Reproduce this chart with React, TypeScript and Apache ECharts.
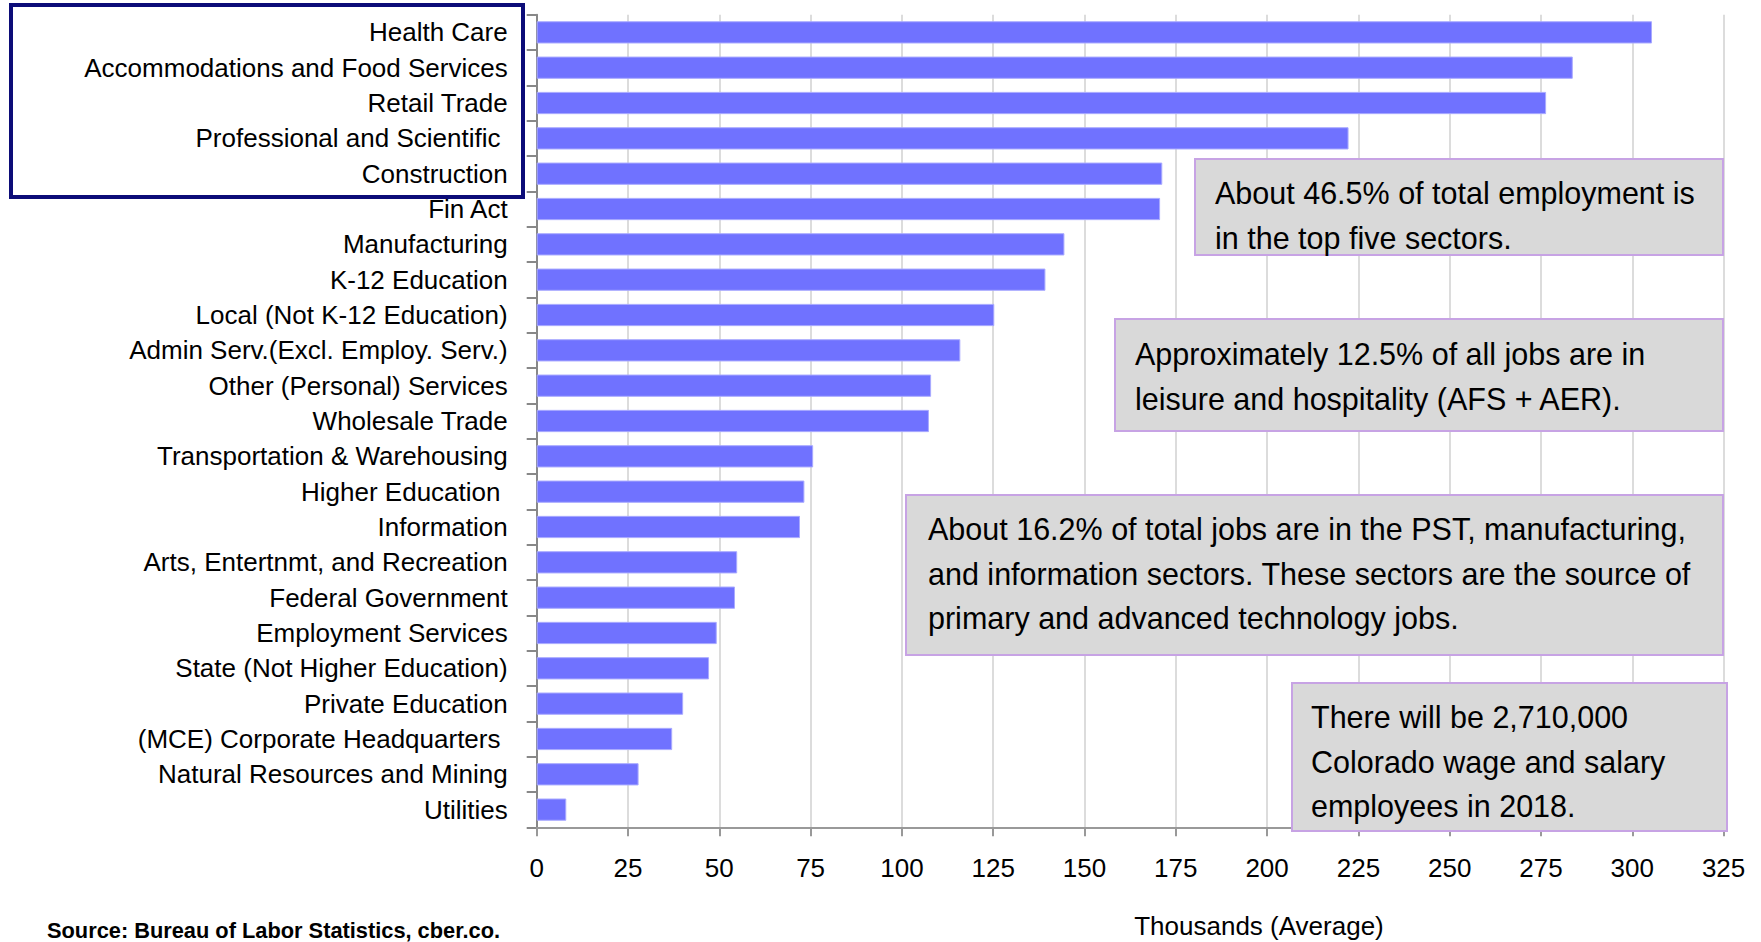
import React, { useEffect, useRef } from "react";
import * as echarts from "echarts";

// ---------- data ----------
const categories: string[] = [
  "Health Care",
  "Accommodations and Food Services",
  "Retail Trade",
  "Professional and Scientific ",
  "Construction",
  "Fin Act",
  "Manufacturing",
  "K-12 Education",
  "Local (Not K-12 Education)",
  "Admin Serv.(Excl. Employ. Serv.)",
  "Other (Personal) Services",
  "Wholesale Trade",
  "Transportation & Warehousing",
  "Higher Education ",
  "Information",
  "Arts, Entertnmt, and Recreation",
  "Federal Government",
  "Employment Services",
  "State (Not Higher Education)",
  "Private Education",
  "(MCE) Corporate Headquarters ",
  "Natural Resources and Mining",
  "Utilities",
];

const employment: number[] = [
  305.4, 283.7, 276.4, 222.3, 171.3, 170.7, 144.5, 139.3, 125.3, 116.0, 108.0,
  107.4, 75.7, 73.3, 72.1, 54.9, 54.3, 49.3, 47.2, 40.1, 37.1, 27.9, 8.1,
];

const xMin = 0;
const xMax = 325;
const xStep = 25;

const axisTitle = "Thousands (Average)";
const sourceNote = "Source: Bureau of Labor Statistics, cber.co.";

const notes: string[] = [
  "About 46.5% of total employment is\nin the top five sectors.",
  "Approximately 12.5% of all jobs are in\nleisure and hospitality (AFS + AER).",
  "About 16.2% of total jobs are in the PST, manufacturing,\nand information sectors. These sectors are the source of\nprimary and advanced technology jobs.",
  "There will be 2,710,000\nColorado wage and salary\nemployees in 2018.",
];

// ---------- layout (not data) ----------
const FONT = '"Liberation Sans", Arial, Helvetica, sans-serif';
const noteBoxes = [
  { x: 1195, y: 159, w: 528, h: 96, tx: 1215, ty: 171 },
  { x: 1115, y: 319, w: 608, h: 112, tx: 1135, ty: 332 },
  { x: 906, y: 495, w: 817, h: 160, tx: 928, ty: 507 },
  { x: 1292, y: 683, w: 435, h: 148, tx: 1311, ty: 695 },
];

export default function App() {
  const ref = useRef<HTMLDivElement>(null);

  useEffect(() => {
    if (!ref.current) return;
    const chart = echarts.init(ref.current, undefined, { renderer: "svg" });

    const noteGraphics: any[] = [];
    noteBoxes.forEach((b, i) => {
      noteGraphics.push({
        type: "rect",
        z: 100,
        shape: { x: b.x, y: b.y, width: b.w, height: b.h },
        style: { fill: "#d9d9d9", stroke: "#c7a3e4", lineWidth: 2 },
      });
      noteGraphics.push({
        type: "text",
        z: 101,
        x: b.tx,
        y: b.ty,
        style: {
          text: notes[i],
          fontFamily: FONT,
          fontSize: 30.5,
          lineHeight: 44.5,
          fill: "#000",
          align: "left",
          verticalAlign: "top",
        },
      });
    });

    const option: any = {
      animation: false,
      backgroundColor: "#ffffff",
      grid: {
        left: 536.7,
        right: 1761 - 1723.6,
        top: 14.7,
        bottom: 942 - 827.3,
        containLabel: false,
      },
      xAxis: {
        type: "value",
        min: xMin,
        max: xMax,
        interval: xStep,
        axisLine: { show: true, lineStyle: { color: "#999999", width: 2 } },
        axisTick: { show: true, length: 9, lineStyle: { color: "#999999", width: 2 } },
        axisLabel: {
          margin: 28,
          color: "#000",
          fontFamily: FONT,
          fontSize: 26,
        },
        splitLine: { show: true, lineStyle: { color: "#dcdcdc", width: 2 } },
      },
      yAxis: {
        type: "category",
        inverse: true,
        data: categories,
        axisLine: { show: true, lineStyle: { color: "#888888", width: 2 } },
        axisTick: { show: true, length: 10, alignWithLabel: false, lineStyle: { color: "#888888", width: 2 } },
        axisLabel: {
          margin: 29,
          color: "#000",
          fontFamily: FONT,
          fontSize: 26,
          interval: 0,
        },
        splitLine: { show: false },
      },
      series: [
        {
          type: "bar",
          data: employment,
          barCategoryGap: "37%",
          itemStyle: { color: "#7072ff", borderColor: "#a9aaff", borderWidth: 1 },
          silent: true,
        },
      ],
      graphic: [
        {
          type: "rect",
          z: 100,
          shape: { x: 11, y: 5, width: 512, height: 192 },
          style: { fill: "none", stroke: "#0c0c78", lineWidth: 4 },
        },
        ...noteGraphics,
        {
          type: "text",
          z: 100,
          x: 1259,
          y: 926,
          style: {
            text: axisTitle,
            fontFamily: FONT,
            fontSize: 26,
            fill: "#000",
            align: "center",
            verticalAlign: "middle",
          },
        },
        {
          type: "text",
          z: 100,
          x: 47,
          y: 930,
          style: {
            text: sourceNote,
            fontFamily: FONT,
            fontSize: 21.8,
            fontWeight: "bold",
            fill: "#000",
            align: "left",
            verticalAlign: "middle",
          },
        },
      ],
    };

    chart.setOption(option);
    return () => chart.dispose();
  }, []);

  return (
    <div
      ref={ref}
      style={{ position: "absolute", left: 0, top: 0, width: 1761, height: 942, background: "#fff" }}
    />
  );
}
